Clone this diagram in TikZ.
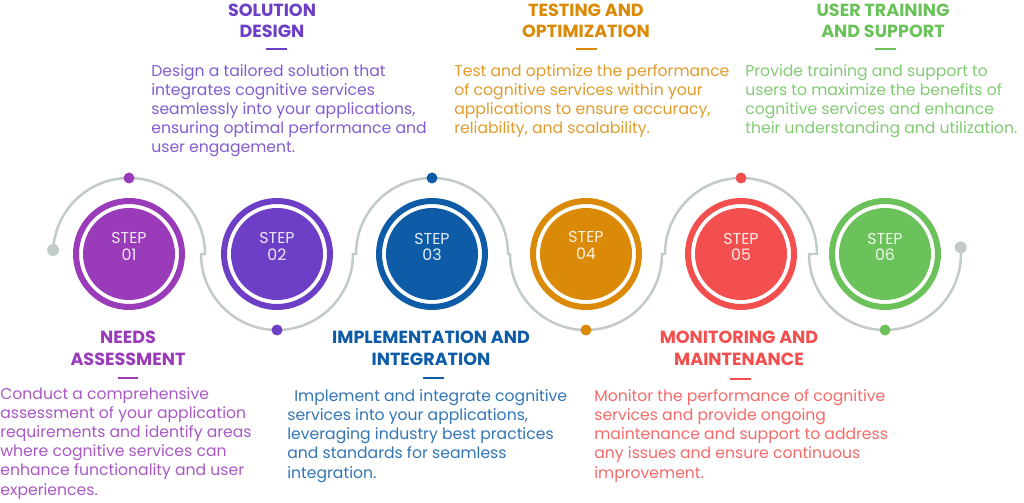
\documentclass[tikz,border=0pt]{standalone}
\usepackage{fontspec}
\setmainfont{Poppins}
\usetikzlibrary{calc}

\definecolor{stepA}{HTML}{9A3BB9}
\definecolor{stepB}{HTML}{6D3FC6}
\definecolor{stepC}{HTML}{0E5CA8}
\definecolor{stepD}{HTML}{DA8A06}
\definecolor{stepE}{HTML}{F44F4F}
\definecolor{stepF}{HTML}{6CC25A}
\definecolor{trackgray}{HTML}{C3CACA}

\tikzset{
  track/.style={draw=trackgray, line width=0.05cm},
  ring/.style={circle, draw=#1, line width=0.12cm, fill=white, minimum size=2.12cm, inner sep=0pt},
  disc/.style={circle, fill=#1, minimum size=1.84cm, inner sep=0pt},
  steplabel/.style={align=center, inner sep=0pt, text=white!88!#1,
    font=\fontsize{9}{9.6}\selectfont},
  dot/.style={circle, fill=#1, minimum size=0.22cm, inner sep=0pt},
  enddot/.style={circle, fill=trackgray, minimum size=0.24cm, inner sep=0pt},
  steptitle/.style={anchor=base, align=center, text=#1, inner sep=0pt,
    font=\fontsize{10}{12.5}\selectfont\bfseries},
  stepbar/.style={fill=#1, minimum width=0.42cm, minimum height=0.05cm, inner sep=0pt},
  stepbody/.style={anchor=base west, align=left, text=#1!85!white, inner sep=0pt,
    font=\fontsize{8.9}{10.9}\selectfont},
}

\begin{document}
\begin{tikzpicture}[x=0.02cm, y=0.02cm]
\useasboundingbox (0,0) rectangle (1024,-503);

\coordinate (c1) at (129,-254); \coordinate (c2) at (277,-254); \coordinate (c3) at (432,-254);
\coordinate (c4) at (586,-254); \coordinate (c5) at (741,-254); \coordinate (c6) at (885,-254);

% winding track
\draw[track] ($(c1)+(177:76)$) arc[start angle=177, end angle=0, radius=76]
  -- ($(c2)+(180:76)$) arc[start angle=180, end angle=360, radius=76]
  -- ($(c3)+(180:76)$) arc[start angle=180, end angle=0, radius=76]
  -- ($(c4)+(180:76)$) arc[start angle=180, end angle=360, radius=76]
  -- ($(c5)+(180:76)$) arc[start angle=180, end angle=0, radius=76]
  -- ($(c6)+(180:76)$) arc[start angle=180, end angle=365, radius=76];
\node[enddot] (e1) at ($(c1)+(177:76)$) {};
\node[enddot] (e2) at ($(c6)+(5:76)$) {};
\node[dot=stepA] (d1) at ($(c1)+(90:76)$) {};
\node[dot=stepB] (d2) at ($(c2)+(270:76)$) {};
\node[dot=stepC] (d3) at ($(c3)+(90:76)$) {};
\node[dot=stepD] (d4) at ($(c4)+(270:76)$) {};
\node[dot=stepE] (d5) at ($(c5)+(90:76)$) {};
\node[dot=stepF] (d6) at ($(c6)+(270:76)$) {};

% step circles
\node[ring=stepA] (r1) at (c1) {}; \node[disc=stepA] (s1) at (c1) {};
\node[ring=stepB] (r2) at (c2) {}; \node[disc=stepB] (s2) at (c2) {};
\node[ring=stepC] (r3) at (c3) {}; \node[disc=stepC] (s3) at (c3) {};
\node[ring=stepD] (r4) at (c4) {}; \node[disc=stepD] (s4) at (c4) {};
\node[ring=stepE] (r5) at (c5) {}; \node[disc=stepE] (s5) at (c5) {};
\node[ring=stepF] (r6) at (c6) {}; \node[disc=stepF] (s6) at (c6) {};
\node[steplabel=stepA] (n1) at ($(c1)+(0,8)$) {STEP\\01};
\node[steplabel=stepB] (n2) at ($(c2)+(0,8)$) {STEP\\02};
\node[steplabel=stepC] (n3) at ($(c3)+(0,7)$) {STEP\\03};
\node[steplabel=stepD] (n4) at ($(c4)+(0,9)$) {STEP\\04};
\node[steplabel=stepE] (n5) at ($(c5)+(0,7)$) {STEP\\05};
\node[steplabel=stepF] (n6) at ($(c6)+(0,7)$) {STEP\\06};

% titles and bars
\node[steptitle=stepA] (t1) at (128,-365) {NEEDS\\ASSESSMENT};
\node[steptitle=stepB] (t2) at (272,-38) {SOLUTION\\DESIGN};
\node[steptitle=stepC] (t3) at (431,-365) {IMPLEMENTATION AND\\INTEGRATION};
\node[steptitle=stepD] (t4) at (586,-38) {TESTING AND\\OPTIMIZATION};
\node[steptitle=stepE] (t5) at (739,-365) {MONITORING AND\\MAINTENANCE};
\node[steptitle=stepF] (t6) at (883,-38) {USER TRAINING\\AND SUPPORT};
\node[stepbar=stepA] (l1) at (128,-378) {};
\node[stepbar=stepB] (l2) at (276,-49) {};
\node[stepbar=stepC] (l3) at (433,-378) {};
\node[stepbar=stepD] (l4) at (586,-49) {};
\node[stepbar=stepE] (l5) at (740,-379) {};
\node[stepbar=stepF] (l6) at (885,-49) {};

% descriptions
\node[stepbody=stepA] (b1) at (0,-495) {Conduct a comprehensive\\assessment of your application\\requirements and identify areas\\where cognitive services can\\enhance functionality and user\\experiences.};
\node[stepbody=stepB] (b2) at (151,-153) {Design a tailored solution that\\integrates cognitive services\\seamlessly into your applications,\\ensuring optimal performance and\\user engagement.};
\node[stepbody=stepC] (b3) at (287,-478) {\hspace{4pt}Implement and integrate cognitive\\services into your applications,\\leveraging industry best practices\\and standards for seamless\\integration.};
\node[stepbody=stepD] (b4) at (454,-134) {Test and optimize the performance\\of cognitive services within your\\applications to ensure accuracy,\\reliability, and scalability.};
\node[stepbody=stepE] (b5) at (594,-478) {Monitor the performance of cognitive\\services and provide ongoing\\maintenance and support to address\\any issues and ensure continuous\\improvement.};
\node[stepbody=stepF] (b6) at (745,-134) {Provide training and support to\\users to maximize the benefits of\\cognitive services and enhance\\their understanding and utilization.};
\end{tikzpicture}
\end{document}
